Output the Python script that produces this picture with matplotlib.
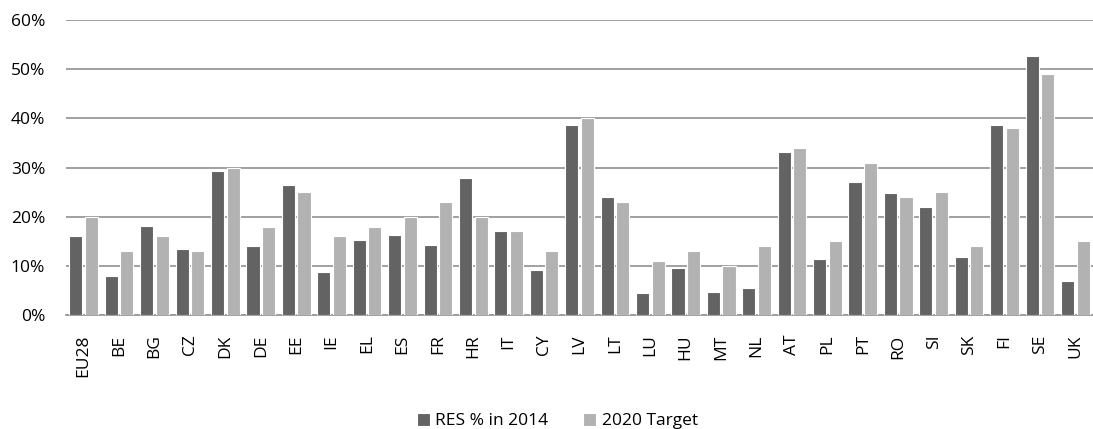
import numpy as np
import matplotlib
matplotlib.use('Agg')
import matplotlib.pyplot as plt
import matplotlib.ticker as mticker

countries = ['EU28', 'BE', 'BG', 'CZ', 'DK', 'DE', 'EE', 'IE', 'EL', 'ES',
             'FR', 'HR', 'IT', 'CY', 'LV', 'LT', 'LU', 'HU', 'MT', 'NL',
             'AT', 'PL', 'PT', 'RO', 'SI', 'SK', 'FI', 'SE', 'UK']
res_2014 = [16.0, 8.0, 18.2, 13.4, 29.2, 14.0, 26.5, 8.7, 15.3, 16.2,
            14.3, 27.9, 17.1, 9.1, 38.7, 23.9, 4.5, 9.5, 4.7, 5.5,
            33.1, 11.4, 27.0, 24.9, 21.9, 11.7, 38.7, 52.6, 7.0]
target_2020 = [20, 13, 16, 13, 30, 18, 25, 16, 18, 20,
               23, 20, 17, 13, 40, 23, 11, 13, 10, 14,
               34, 15, 31, 24, 25, 14, 38, 49, 15]

plt.rcParams['font.family'] = ['Open Sans', 'DejaVu Sans']

fig = plt.figure(figsize=(10.93, 4.29), dpi=100)
ax = fig.add_axes([0.0604, 0.2657, 0.9396, 0.6877])

x = np.arange(len(countries))
off = 0.22
w = 0.37
ax.bar(x - off, np.array(res_2014) / 100, width=w, color='#636363',
       edgecolor='white', linewidth=0.8, label='RES % in 2014', zorder=3)
ax.bar(x + off, np.array(target_2020) / 100, width=w, color='#b2b2b2',
       edgecolor='white', linewidth=0.8, label='2020 Target', zorder=3)

ax.set_xlim(-0.5, len(countries) - 0.5)
ax.set_ylim(0, 0.6)
ax.set_yticks(np.arange(0, 0.61, 0.1))
ax.yaxis.set_major_formatter(mticker.PercentFormatter(1.0, decimals=0))
ax.grid(axis='y', color='#999999', linewidth=1.3, zorder=0)
ax.set_axisbelow(True)

ax.set_xticks(x)
ax.set_xticklabels(countries, rotation=90, fontsize=12.5)
ax.tick_params(axis='x', length=0, pad=14)
ax.tick_params(axis='y', length=0, pad=15, labelsize=12.5)
for s in ['top', 'right', 'left']:
    ax.spines[s].set_visible(False)
ax.spines['bottom'].set_color('#999999')
ax.spines['bottom'].set_linewidth(1.3)

fig.legend(loc='center', bbox_to_anchor=(0.51, 0.018), ncol=2, frameon=False,
           fontsize=12.5, handlelength=0.75, handleheight=0.75,
           handletextpad=0.3, columnspacing=2.0)

fig.savefig('out.png', dpi=100)
